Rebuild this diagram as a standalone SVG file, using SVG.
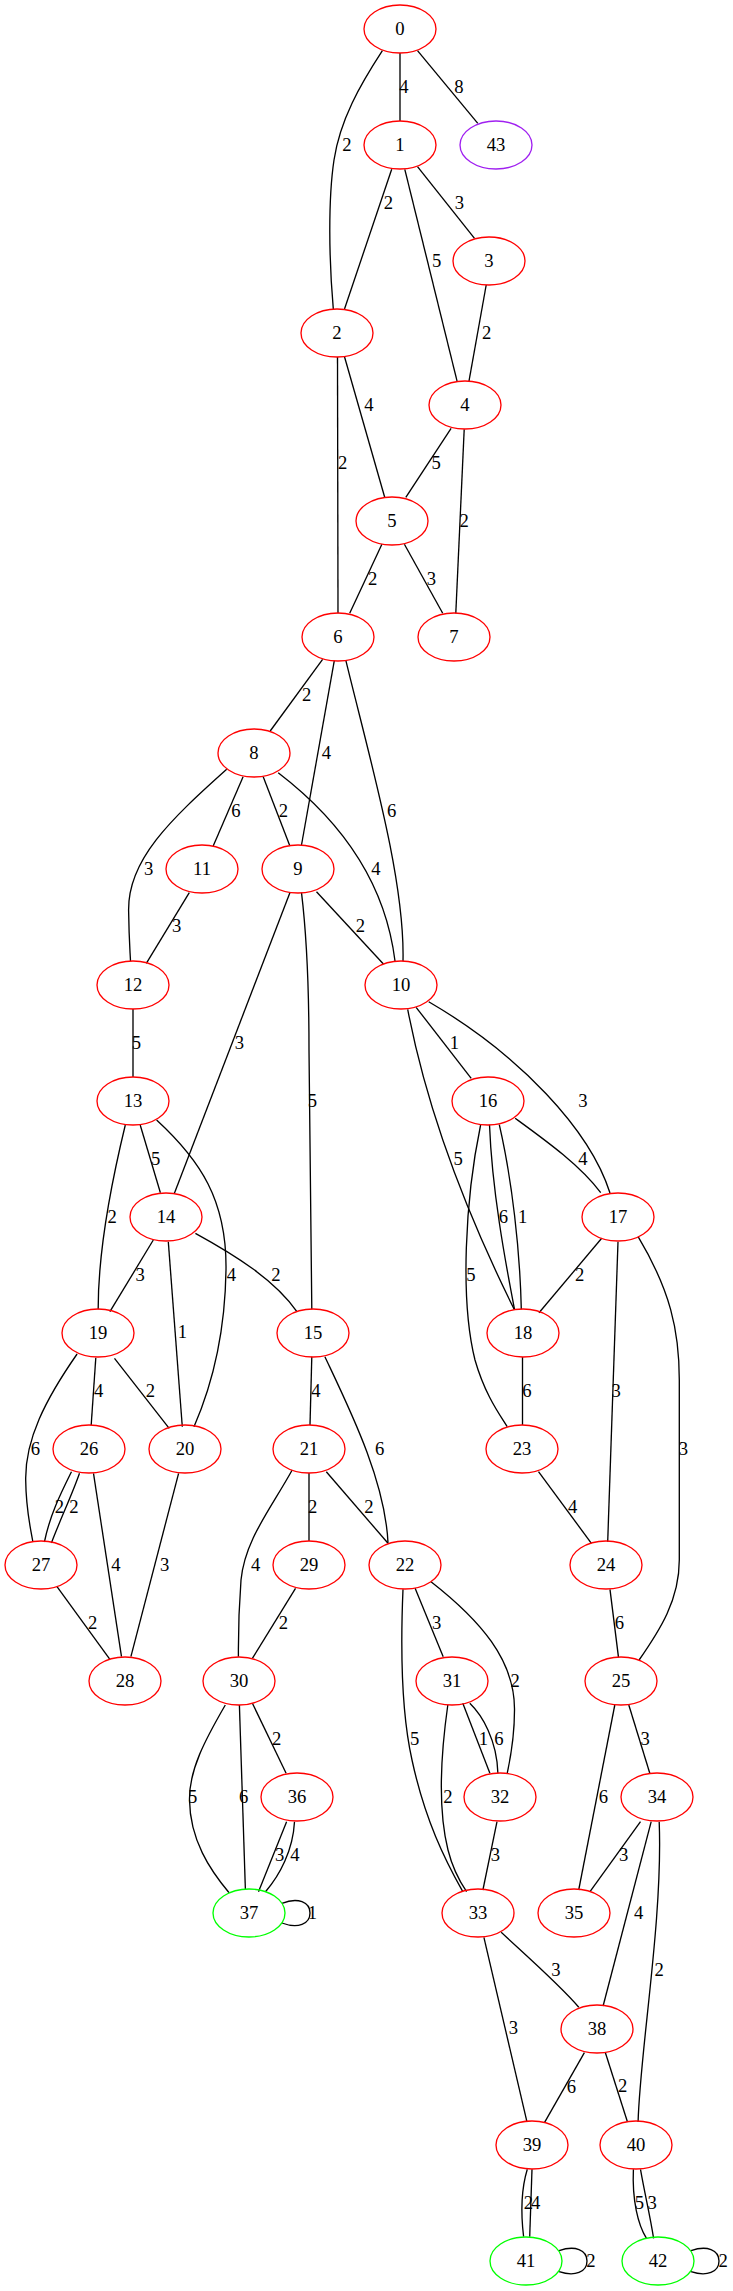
<svg xmlns="http://www.w3.org/2000/svg" width="733" height="2291" viewBox="0 0 733 2291">
<style>
.n ellipse{fill:none;stroke-width:1.33}
.r ellipse{stroke:#ff0000}
.g ellipse{stroke:#00ff00}
.p ellipse{stroke:#a020f0}
text{font-family:"Liberation Serif","Times New Roman",serif;font-size:18.67px;text-anchor:middle;fill:#000}
#edges path{fill:none;stroke:#000;stroke-width:1.33}
</style>
<rect x="0" y="0" width="733" height="2291" fill="#fff"/>
<g id="edges">
<path d="M400,53 L400,121"/>
<path d="M382.4,50.7 C360,85 340,120 334,160 C328,200 329,260 333.3,309"/>
<path d="M417.5,50.7 L477.8,123.3"/>
<path d="M391.7,169.3 L344.5,309"/>
<path d="M417.5,166.7 L474.5,238.3"/>
<path d="M404.8,169.3 L457.2,381.7"/>
<path d="M486.2,285 L468.9,381.7"/>
<path d="M344.5,356.7 L384.7,497.3"/>
<path d="M337.5,357 L338,613.3"/>
<path d="M451.1,428.3 L405.8,497.3"/>
<path d="M464.2,429.3 L455.8,613.3"/>
<path d="M381.9,544.3 L349.7,613.3"/>
<path d="M404.4,544.3 L442.7,613.3"/>
<path d="M322.6,659.3 L270.2,731"/>
<path d="M334.3,660.7 L301.5,845"/>
<path d="M345.9,660.7 C370,760 405,880 403,961"/>
<path d="M226.7,769.3 C170,820 128,860 128.6,910 C129,940 130,950 130.5,961"/>
<path d="M243.1,776.7 L213.2,846"/>
<path d="M263.2,776.7 L289.9,846"/>
<path d="M278.2,772.7 C340,820 385,880 395,961"/>
<path d="M189.3,892.7 L146.3,963.3"/>
<path d="M316.5,891.7 L383.4,964"/>
<path d="M289.9,892.7 L174.4,1193.3"/>
<path d="M301.5,892.7 C306,930 309,970 309,1050 L311.8,1309.3"/>
<path d="M416.1,1007.3 L471.2,1078.3"/>
<path d="M428.7,1001.7 C520,1055 590,1130 610,1193"/>
<path d="M407.7,1009.3 C425,1100 460,1200 514.2,1309.3"/>
<path d="M133,1009 L133,1077"/>
<path d="M140.2,1125 L160.4,1192.7"/>
<path d="M125.3,1125 C112,1180 98,1250 98.2,1309.3"/>
<path d="M156.6,1120 C200,1160 227,1200 226,1270 C225,1340 210,1390 194,1426.7"/>
<path d="M153.3,1240 L109.9,1311.7"/>
<path d="M168.3,1241.7 L182.3,1426.7"/>
<path d="M195.4,1233.3 C235,1255 275,1280 296.9,1311.7"/>
<path d="M311.8,1356.7 L310,1425"/>
<path d="M324.9,1356.7 C350,1410 385,1480 388,1542.7"/>
<path d="M515.2,1118.3 C545,1140 580,1165 600.7,1192.7"/>
<path d="M489.5,1124.7 C492,1190 505,1260 514.5,1309.3"/>
<path d="M499.3,1124.7 C512,1180 520,1250 521.3,1309.3"/>
<path d="M480.6,1125 C465,1200 460,1300 475,1360 C485,1395 500,1415 507.2,1426.7"/>
<path d="M601.7,1238.3 L539,1312.7"/>
<path d="M618,1241.7 L607.7,1541.7"/>
<path d="M638.1,1236.7 C670,1290 679.3,1330 679.3,1380 L679.3,1560 C679.3,1600 660,1630 639.1,1660"/>
<path d="M522.5,1357 L522.5,1425"/>
<path d="M95.8,1357.7 L91.2,1425"/>
<path d="M114.5,1358.3 L169.2,1428.3"/>
<path d="M77.1,1354 C45,1400 25,1440 25.7,1480 C26,1510 30,1525 32.7,1541"/>
<path d="M71.5,1471.7 C60,1495 50,1515 44.4,1542"/>
<path d="M79.5,1473.3 C72,1495 60,1520 51.4,1543"/>
<path d="M93.5,1473.3 L121.5,1656.7"/>
<path d="M178.6,1473.3 L130.9,1656.7"/>
<path d="M57,1586.7 L109.9,1659.3"/>
<path d="M309,1473 L309,1541"/>
<path d="M326.3,1471.7 L388,1543.3"/>
<path d="M292.2,1470 C270,1510 245,1540 241,1580 C238,1620 238.4,1640 238.4,1656.7"/>
<path d="M295.5,1588.3 L252.4,1658.3"/>
<path d="M415.1,1588.3 L443.2,1656.7"/>
<path d="M403,1589.3 C400,1660 403,1720 412,1760 C425,1820 445,1860 462.8,1891.7"/>
<path d="M431,1581.7 C480,1620 515,1660 514.5,1710 C514.5,1740 510,1760 507.2,1773.3"/>
<path d="M462.8,1703.3 L489.9,1773.3"/>
<path d="M469.8,1703.3 C482,1715 497,1740 497.9,1773.3"/>
<path d="M447.8,1705 C440,1760 438,1810 448,1850 C453,1870 460,1882 466.6,1891.7"/>
<path d="M497,1821.7 L482.9,1890"/>
<path d="M252.4,1703.3 L286.1,1773.3"/>
<path d="M239.4,1705 L245.4,1890"/>
<path d="M225.3,1705 C205,1740 189,1770 189.5,1800 C190,1840 210,1870 229.1,1892.7"/>
<path d="M286.6,1821.7 L258.5,1891.7"/>
<path d="M294.5,1821.7 C293,1850 280,1875 265.5,1891.7"/>
<path d="M281.9,1903.3 C298,1897 310,1902 310,1913 C310,1924 298,1929 281.9,1923"/>
<path d="M628.8,1705 L649.8,1773.3"/>
<path d="M614.8,1705 L578.7,1890"/>
<path d="M610,1589.3 L618.5,1657.3"/>
<path d="M538.5,1471.7 L591.4,1543.3"/>
<path d="M640.5,1821.7 L590,1891.7"/>
<path d="M651.2,1821.7 L603.1,2006"/>
<path d="M659.2,1821.7 C663,1920 640,2050 638.1,2121.7"/>
<path d="M501.2,1932.3 C520,1950 560,1985 578.8,2007.3"/>
<path d="M483.9,1937.3 L526.9,2121.7"/>
<path d="M584.4,2052.7 L544.6,2122.3"/>
<path d="M605.4,2052.7 L627.4,2121.7"/>
<path d="M527.3,2169.3 C521,2190 521,2215 523.6,2236.7"/>
<path d="M532,2169.3 L529.7,2236.7"/>
<path d="M633.4,2169.3 C632,2200 638,2225 646.5,2238.3"/>
<path d="M640.5,2169.3 C645,2195 650,2215 653.6,2238.3"/>
<path d="M559.1,2250.7 C575,2245 587,2250 587,2261 C587,2272 575,2277 559.1,2271.7"/>
<path d="M691,2250.7 C707,2245 719,2250 719,2261 C719,2272 707,2277 691,2271.7"/>
</g>
<g id="edge-labels">
<text x="404" y="93">4</text>
<text x="459" y="93">8</text>
<text x="347" y="151">2</text>
<text x="388.5" y="209">2</text>
<text x="459.5" y="209">3</text>
<text x="436.6" y="267">5</text>
<text x="486.6" y="339">2</text>
<text x="368.8" y="411">4</text>
<text x="342.7" y="469">2</text>
<text x="436.2" y="469">5</text>
<text x="464.2" y="527">2</text>
<text x="372.6" y="585">2</text>
<text x="431.5" y="585">3</text>
<text x="306.7" y="701">2</text>
<text x="326.3" y="759">4</text>
<text x="148.7" y="875">3</text>
<text x="236" y="817">6</text>
<text x="283.3" y="817">2</text>
<text x="375.9" y="875">4</text>
<text x="391.7" y="817">6</text>
<text x="176.7" y="932">3</text>
<text x="360.4" y="932">2</text>
<text x="136.5" y="1049">5</text>
<text x="239.3" y="1049">3</text>
<text x="312.3" y="1107">5</text>
<text x="454.4" y="1049">1</text>
<text x="583" y="1107">3</text>
<text x="155.7" y="1165">5</text>
<text x="583" y="1165">4</text>
<text x="458.1" y="1165">5</text>
<text x="112.2" y="1223">2</text>
<text x="503.5" y="1223">6</text>
<text x="522.6" y="1223">1</text>
<text x="140.2" y="1281">3</text>
<text x="231.4" y="1281">4</text>
<text x="275.8" y="1281">2</text>
<text x="470.8" y="1281">5</text>
<text x="579.7" y="1281">2</text>
<text x="182.3" y="1338">1</text>
<text x="98.6" y="1397">4</text>
<text x="150.5" y="1397">2</text>
<text x="316" y="1397">4</text>
<text x="526.9" y="1397">6</text>
<text x="616.1" y="1397">3</text>
<text x="35.5" y="1455">6</text>
<text x="379.6" y="1455">6</text>
<text x="683.5" y="1455">3</text>
<text x="59.4" y="1513">2</text>
<text x="73.9" y="1513">2</text>
<text x="312.7" y="1513">2</text>
<text x="368.8" y="1513">2</text>
<text x="572.7" y="1513">4</text>
<text x="115.9" y="1571">4</text>
<text x="164.6" y="1571">3</text>
<text x="255.7" y="1571">4</text>
<text x="92.6" y="1629">2</text>
<text x="283.3" y="1629">2</text>
<text x="436.6" y="1629">3</text>
<text x="619.4" y="1629">6</text>
<text x="515.2" y="1687">2</text>
<text x="276.7" y="1745">2</text>
<text x="414.7" y="1745">5</text>
<text x="483.4" y="1745">1</text>
<text x="498.8" y="1745">6</text>
<text x="645.1" y="1745">3</text>
<text x="192.6" y="1803">5</text>
<text x="243.6" y="1803">6</text>
<text x="447.8" y="1803">2</text>
<text x="603.5" y="1803">6</text>
<text x="279.6" y="1861">3</text>
<text x="295" y="1861">4</text>
<text x="495.5" y="1861">3</text>
<text x="623.6" y="1861">3</text>
<text x="312.3" y="1919">1</text>
<text x="638.6" y="1919">4</text>
<text x="555.8" y="1976">3</text>
<text x="659.2" y="1976">2</text>
<text x="513.3" y="2034">3</text>
<text x="571.3" y="2093">6</text>
<text x="622.7" y="2092">2</text>
<text x="528.3" y="2209">2</text>
<text x="535.6" y="2209">4</text>
<text x="639.5" y="2209">5</text>
<text x="652.1" y="2209">3</text>
<text x="590.9" y="2267">2</text>
<text x="723.2" y="2267">2</text>
</g>
<g id="n0" class="n r"><ellipse cx="400" cy="29" rx="36" ry="24"/><text x="400" y="35">0</text></g>
<g id="n1" class="n r"><ellipse cx="400" cy="145" rx="36" ry="24"/><text x="400" y="151">1</text></g>
<g id="n43" class="n p"><ellipse cx="496" cy="145" rx="36" ry="24"/><text x="496" y="151">43</text></g>
<g id="n3" class="n r"><ellipse cx="489" cy="261" rx="36" ry="24"/><text x="489" y="267">3</text></g>
<g id="n2" class="n r"><ellipse cx="337" cy="333" rx="36" ry="24"/><text x="337" y="339">2</text></g>
<g id="n4" class="n r"><ellipse cx="465" cy="405" rx="36" ry="24"/><text x="465" y="411">4</text></g>
<g id="n5" class="n r"><ellipse cx="392" cy="521" rx="36" ry="24"/><text x="392" y="527">5</text></g>
<g id="n6" class="n r"><ellipse cx="338" cy="637" rx="36" ry="24"/><text x="338" y="643">6</text></g>
<g id="n7" class="n r"><ellipse cx="454" cy="637" rx="36" ry="24"/><text x="454" y="643">7</text></g>
<g id="n8" class="n r"><ellipse cx="254" cy="753" rx="36" ry="24"/><text x="254" y="759">8</text></g>
<g id="n11" class="n r"><ellipse cx="202" cy="869" rx="36" ry="24"/><text x="202" y="875">11</text></g>
<g id="n9" class="n r"><ellipse cx="298" cy="869" rx="36" ry="24"/><text x="298" y="875">9</text></g>
<g id="n12" class="n r"><ellipse cx="133" cy="985" rx="36" ry="24"/><text x="133" y="991">12</text></g>
<g id="n10" class="n r"><ellipse cx="401" cy="985" rx="36" ry="24"/><text x="401" y="991">10</text></g>
<g id="n13" class="n r"><ellipse cx="133" cy="1101" rx="36" ry="24"/><text x="133" y="1107">13</text></g>
<g id="n16" class="n r"><ellipse cx="488" cy="1101" rx="36" ry="24"/><text x="488" y="1107">16</text></g>
<g id="n14" class="n r"><ellipse cx="166" cy="1217" rx="36" ry="24"/><text x="166" y="1223">14</text></g>
<g id="n17" class="n r"><ellipse cx="618" cy="1217" rx="36" ry="24"/><text x="618" y="1223">17</text></g>
<g id="n19" class="n r"><ellipse cx="98" cy="1333" rx="36" ry="24"/><text x="98" y="1339">19</text></g>
<g id="n15" class="n r"><ellipse cx="313" cy="1333" rx="36" ry="24"/><text x="313" y="1339">15</text></g>
<g id="n18" class="n r"><ellipse cx="523" cy="1333" rx="36" ry="24"/><text x="523" y="1339">18</text></g>
<g id="n26" class="n r"><ellipse cx="89" cy="1449" rx="36" ry="24"/><text x="89" y="1455">26</text></g>
<g id="n20" class="n r"><ellipse cx="185" cy="1449" rx="36" ry="24"/><text x="185" y="1455">20</text></g>
<g id="n21" class="n r"><ellipse cx="309" cy="1449" rx="36" ry="24"/><text x="309" y="1455">21</text></g>
<g id="n23" class="n r"><ellipse cx="522" cy="1449" rx="36" ry="24"/><text x="522" y="1455">23</text></g>
<g id="n27" class="n r"><ellipse cx="41" cy="1565" rx="36" ry="24"/><text x="41" y="1571">27</text></g>
<g id="n29" class="n r"><ellipse cx="309" cy="1565" rx="36" ry="24"/><text x="309" y="1571">29</text></g>
<g id="n22" class="n r"><ellipse cx="405" cy="1565" rx="36" ry="24"/><text x="405" y="1571">22</text></g>
<g id="n24" class="n r"><ellipse cx="606" cy="1565" rx="36" ry="24"/><text x="606" y="1571">24</text></g>
<g id="n28" class="n r"><ellipse cx="125" cy="1681" rx="36" ry="24"/><text x="125" y="1687">28</text></g>
<g id="n30" class="n r"><ellipse cx="239" cy="1681" rx="36" ry="24"/><text x="239" y="1687">30</text></g>
<g id="n31" class="n r"><ellipse cx="452" cy="1681" rx="36" ry="24"/><text x="452" y="1687">31</text></g>
<g id="n25" class="n r"><ellipse cx="621" cy="1681" rx="36" ry="24"/><text x="621" y="1687">25</text></g>
<g id="n36" class="n r"><ellipse cx="297" cy="1797" rx="36" ry="24"/><text x="297" y="1803">36</text></g>
<g id="n32" class="n r"><ellipse cx="500" cy="1797" rx="36" ry="24"/><text x="500" y="1803">32</text></g>
<g id="n34" class="n r"><ellipse cx="657" cy="1797" rx="36" ry="24"/><text x="657" y="1803">34</text></g>
<g id="n37" class="n g"><ellipse cx="249" cy="1913" rx="36" ry="24"/><text x="249" y="1919">37</text></g>
<g id="n33" class="n r"><ellipse cx="478" cy="1913" rx="36" ry="24"/><text x="478" y="1919">33</text></g>
<g id="n35" class="n r"><ellipse cx="574" cy="1913" rx="36" ry="24"/><text x="574" y="1919">35</text></g>
<g id="n38" class="n r"><ellipse cx="597" cy="2029" rx="36" ry="24"/><text x="597" y="2035">38</text></g>
<g id="n39" class="n r"><ellipse cx="532" cy="2145" rx="36" ry="24"/><text x="532" y="2151">39</text></g>
<g id="n40" class="n r"><ellipse cx="636" cy="2145" rx="36" ry="24"/><text x="636" y="2151">40</text></g>
<g id="n41" class="n g"><ellipse cx="526" cy="2261" rx="36" ry="24"/><text x="526" y="2267">41</text></g>
<g id="n42" class="n g"><ellipse cx="658" cy="2261" rx="36" ry="24"/><text x="658" y="2267">42</text></g>
</svg>
